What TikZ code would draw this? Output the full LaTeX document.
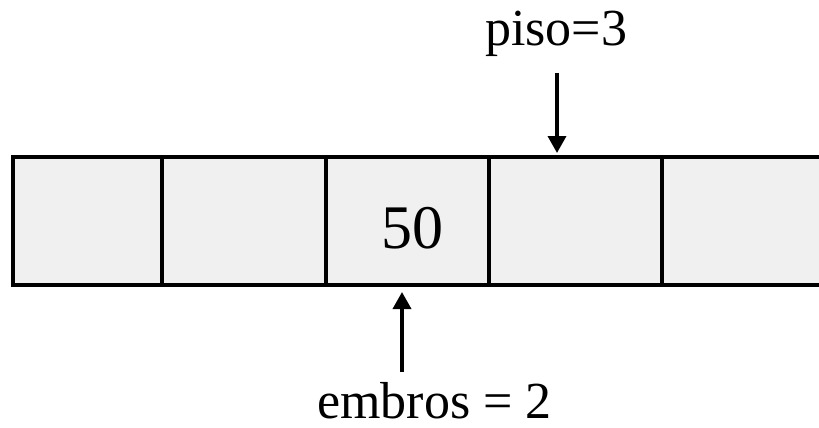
\documentclass[tikz,border=0pt]{standalone}
\usepackage{fontspec}
\setmainfont{Liberation Serif}
\usetikzlibrary{arrows.meta}
\definecolor{cellgray}{HTML}{F0F0F0}
\tikzset{
  cell/.style={draw, fill=cellgray, line width=3.5pt, inner sep=0pt, outer sep=0pt,
    minimum height=128pt, anchor=north west},
  ptr/.style={line width=3.5pt, -{Triangle[width=18pt,length=17pt]}},
  lbl/.style={inner sep=0pt, text depth=0pt, anchor=base west, font=\fontsize{52}{60}\selectfont}
}

\begin{document}
\begin{tikzpicture}[x=1pt,y=-1pt]
    \useasboundingbox (0,0) rectangle (819,428);
    % Last cell runs off the right edge
    \coordinate (c5nw) at (662,157);
    \coordinate (c5ne) at (819,157);
    \coordinate (c5se) at (819,285);
    \fill[cellgray] (c5nw) rectangle (c5se);
    % Draw the cells
    \node[cell, minimum width=149pt] (c1) at (13,157) {};
    \node[cell, minimum width=164pt] (c2) at (c1.north east) {};
    \node[cell, minimum width=163pt] (c3) at (c2.north east) {};
    \node[cell, minimum width=173pt] (c4) at (c3.north east) {};
    \draw[line width=3.5pt] (c4.north east) -- (c5ne);
    \draw[line width=3.5pt] (c4.south east) -- (c5se);
    % Value in the third cell
    \node[inner sep=0pt, anchor=base, font=\fontsize{62}{70}\selectfont] (val) at (412,248) {50};
    % Labels
    \node[lbl] (piso) at (485,46) {piso=3};
    \node[lbl] (embros) at (317,418) {embros = 2};
    % Draw the pointers
    \coordinate (pisotail) at (557,73);
    \coordinate (embrostail) at (402,372);
    \draw[ptr] (pisotail) -- ([yshift=4pt]pisotail |- c4.north);
    \draw[ptr] (embrostail) -- ([yshift=-7pt]embrostail |- c3.south);
\end{tikzpicture}
\end{document}
